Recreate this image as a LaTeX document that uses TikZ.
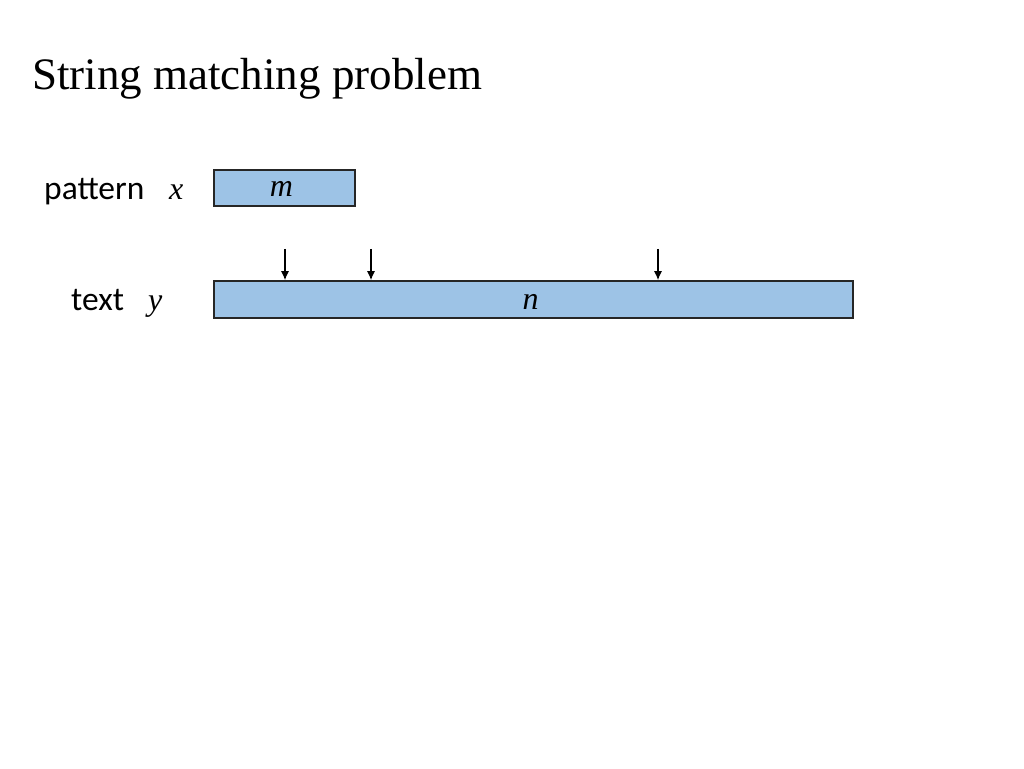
\documentclass[tikz,border=0pt]{standalone}
\usepackage{fontspec}
\setmainfont{Liberation Serif}
\newfontfamily\labelfont{Carlito}
\usetikzlibrary{arrows.meta,positioning}

\definecolor{boxblue}{RGB}{157,195,230}
\tikzset{
	strbox/.style={draw=black!85, fill=boxblue, inner sep=0pt, line width=1.5pt},
	lbl/.style={anchor=base west, inner sep=0pt, font=\labelfont\fontsize{33.5}{36}\selectfont},
	var/.style={anchor=base west, inner sep=0pt, font=\itshape\fontsize{32}{36}\selectfont},
	shiftarrow/.style={-{Latex[length=9pt,width=8pt]}, line width=1.4pt}
}

\begin{document}
\begin{tikzpicture}[x=1pt,y=1pt]
		\useasboundingbox (0,0) rectangle (1024,768);
		\node[anchor=base west, inner sep=0pt, font=\fontsize{45}{50}\selectfont] (title) at (32,678) {String matching problem};
		
		\node[lbl] (plabel) at (44,568) {pattern};
		\node[var] (xvar) at (169,568) {x};
		\node[lbl] (tlabel) at (71,457) {text};
		\node[var] (yvar) at (148,457) {y};
		
		\node[strbox, minimum width=141pt, minimum height=36pt] (pat) at (284.5,580) {};
		\node[var, anchor=base] (mlen) at ([xshift=-3pt,yshift=-9pt]pat.center) {m};
		\node[strbox, minimum width=639pt, minimum height=37pt] (txt) at (533.5,468.5) {};
		\node[var, anchor=base] (nlen) at ([xshift=-3pt,yshift=-10pt]txt.center) {n};
		
		\foreach \i/\xpos in {1/285,2/371,3/658}{
			\coordinate (top\i) at (\xpos,519);
			\draw[shiftarrow] (top\i) -- (top\i |- txt.north);
		}
	\end{tikzpicture}
\end{document}
